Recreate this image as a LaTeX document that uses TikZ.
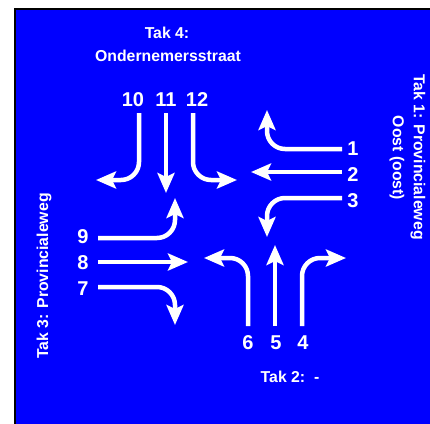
\documentclass[tikz,border=0pt]{standalone}
\usepackage{fontspec}
\setmainfont{Liberation Sans}
\usetikzlibrary{arrows.meta}
\definecolor{kruispunt}{RGB}{0,0,255}

\begin{document}
\begin{tikzpicture}[x=1pt, y=-1pt,
    lane/.style={draw=white, line width=4.5pt, rounded corners=18pt,
      -{Stealth[length=20pt, width=17pt, inset=4pt]}},
    num/.style={text=white, inner sep=0pt, font=\fontsize{20}{24}\selectfont\bfseries},
    tak/.style={text=white, inner sep=0pt, font=\fontsize{15.8}{19}\selectfont\bfseries}]
  \useasboundingbox (0,0) rectangle (430,423);
  \fill[white] (-2,-2) rectangle (432,425);
  \fill[kruispunt] (15,9) rectangle (433,426);
  \draw[black, line width=2pt] (15,426) -- (15,9) -- (433,9);

  % takken
  \node[tak] (tak4) at (167,33) {Tak 4:};
  \node[tak] (straat4) at (168,56) {Ondernemersstraat};
  \node[tak, rotate=-90] (tak1) at (418,157) {Tak 1: Provincialeweg};
  \node[tak, rotate=-90] (oost1) at (397,158) {Oost (oost)};
  \node[tak, rotate=90] (tak3) at (44,276) {Tak 3: Provincialeweg};
  \node[tak] (tak2) at (290,377) {Tak 2:\ \ -};

  % nummers
  \node[num] (n10) at (133,100) {10};
  \node[num] (n11) at (166,100) {11};
  \node[num] (n12) at (197,100) {12};
  \node[num] (n1) at (353,149) {1};
  \node[num] (n2) at (353,175) {2};
  \node[num] (n3) at (353,201) {3};
  \node[num] (n9) at (83,237) {9};
  \node[num] (n8) at (83,263) {8};
  \node[num] (n7) at (83,289) {7};
  \node[num] (n6) at (248,343) {6};
  \node[num] (n5) at (276,343) {5};
  \node[num] (n4) at (303,343) {4};

  % begin- en eindpunten
  \coordinate (s10) at (139,113); \coordinate (e10) at (96,180);
  \coordinate (s11) at (166,113); \coordinate (e11) at (166,193);
  \coordinate (s12) at (193,113); \coordinate (e12) at (237,180);
  \coordinate (s1) at (342,149);  \coordinate (e1) at (267,110);
  \coordinate (s2) at (342,172);  \coordinate (e2) at (251,172);
  \coordinate (s3) at (342,198);  \coordinate (e3) at (267,237);
  \coordinate (s9) at (98,238);   \coordinate (e9) at (175,198);
  \coordinate (s8) at (98,262);   \coordinate (e8) at (188,262);
  \coordinate (s7) at (98,287);   \coordinate (e7) at (175,325);
  \coordinate (s6) at (248,326);  \coordinate (e6) at (204,258);
  \coordinate (s5) at (275,326);  \coordinate (e5) at (275,245);
  \coordinate (s4) at (302,326);  \coordinate (e4) at (346,258);

  % stromen
  \draw[lane] (s10) |- (e10);
  \draw[lane] (s11) -- (e11);
  \draw[lane] (s12) |- (e12);
  \draw[lane] (s1) -| (e1);
  \draw[lane] (s2) -- (e2);
  \draw[lane] (s3) -| (e3);
  \draw[lane] (s9) -| (e9);
  \draw[lane] (s8) -- (e8);
  \draw[lane] (s7) -| (e7);
  \draw[lane] (s6) |- (e6);
  \draw[lane] (s5) -- (e5);
  \draw[lane] (s4) |- (e4);
\end{tikzpicture}
\end{document}
